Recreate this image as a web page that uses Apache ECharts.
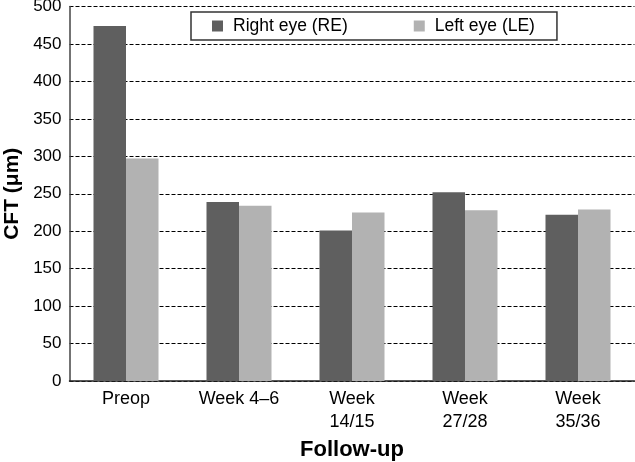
<!DOCTYPE html>
<html>
<head>
<meta charset="utf-8">
<script src="https://cdn.jsdelivr.net/npm/echarts@6/dist/echarts.min.js"></script>
<style>html,body{margin:0;padding:0;background:#fff}#c{width:635px;height:462px}</style>
</head>
<body>
<div id="c"></div>
<script>
const categories = ['Preop', 'Week 4–6', 'Week\n14/15', 'Week\n27/28', 'Week\n35/36'];
const rightEye = [474, 239, 201, 252, 222];
const leftEye = [297, 234, 225, 228, 229];
const seriesNames = ['Right eye (RE)', 'Left eye (LE)'];
const yTicks = { min: 0, max: 500, interval: 50 };

const FONT = '"Liberation Sans", Arial, sans-serif';
const chart = echarts.init(document.getElementById('c'), null, { renderer: 'canvas' });
chart.setOption({
  animation: false,
  backgroundColor: '#fff',
  legend: {
    data: seriesNames,
    left: 191, top: 12,
    orient: 'horizontal',
    borderColor: '#333', borderWidth: 1.5, borderRadius: 0,
    padding: [5, 22, 5, 21],
    itemWidth: 11, itemHeight: 11, itemGap: 66,
    icon: 'rect',
    textStyle: { fontFamily: FONT, fontSize: 17.5, color: '#000', padding: [0, 0, 0, 5] }
  },
  grid: { left: 69.5, right: 0.5, top: 6.5, bottom: 81, containLabel: false, outerBoundsMode: 'none' },
  xAxis: {
    type: 'category',
    data: categories,
    name: 'Follow-up', nameLocation: 'middle', nameGap: 56,
    nameTextStyle: { fontFamily: FONT, fontSize: 22, fontWeight: 'bold', color: '#000' },
    axisLine: { lineStyle: { color: '#222', width: 1.5 } },
    axisTick: { show: false },
    axisLabel: { fontFamily: FONT, fontSize: 18, color: '#000', margin: 7, lineHeight: 23, interval: 0 }
  },
  yAxis: {
    type: 'value', min: yTicks.min, max: yTicks.max, interval: yTicks.interval,
    name: 'CFT (μm)', nameLocation: 'middle', nameGap: 47,
    nameTextStyle: { fontFamily: FONT, fontSize: 21, fontWeight: 'bold', color: '#000' },
    axisLine: { show: true, lineStyle: { color: '#444', width: 1.5 } },
    axisTick: { show: false },
    axisLabel: { fontFamily: FONT, fontSize: 17, color: '#000', margin: 8 },
    splitLine: { show: true, lineStyle: { color: '#000', width: 1, type: [4, 2] } }
  },
  series: [
    { name: seriesNames[0], type: 'bar', data: rightEye, barWidth: 32.5, barGap: '0%', itemStyle: { color: '#5f5f5f' } },
    { name: seriesNames[1], type: 'bar', data: leftEye, barWidth: 32.5, barGap: '0%', itemStyle: { color: '#b2b2b2' } }
  ]
});
</script>
</body>
</html>
